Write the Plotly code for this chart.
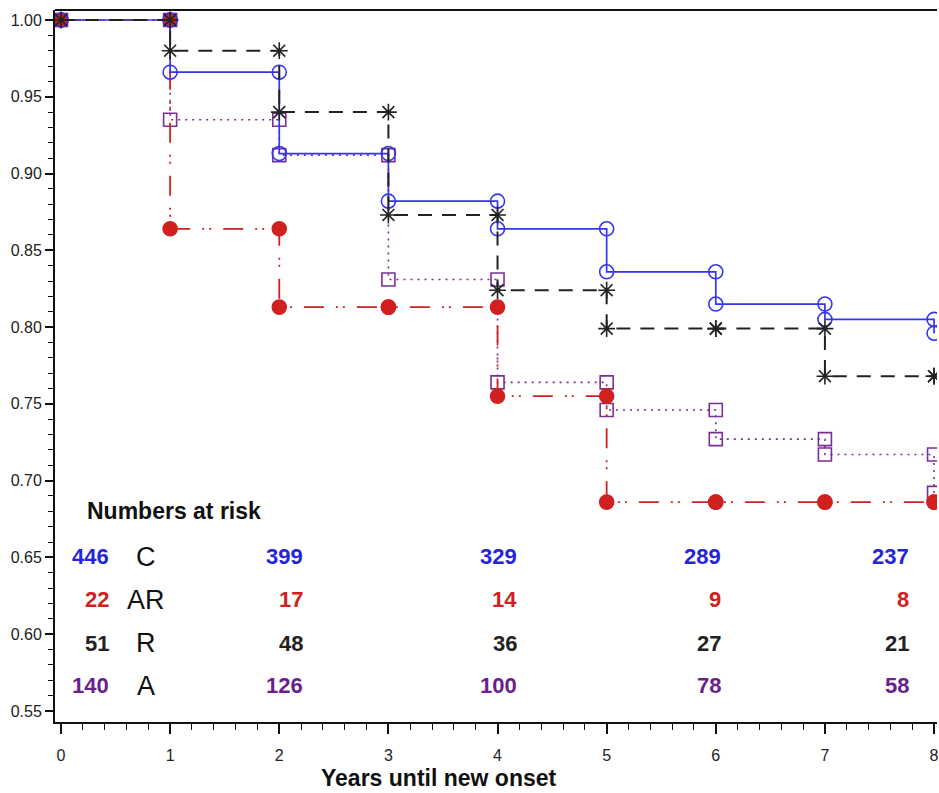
import plotly.graph_objects as go

# ---- data ----
years = [0, 1, 2, 3, 4, 5, 6, 7, 8]
# survival on interval [k, k+1), last value = after drop at year 8
surv_C = [1.000, 0.966, 0.913, 0.882, 0.864, 0.836, 0.815, 0.805, 0.796]
surv_AR = [1.000, 0.864, 0.813, 0.813, 0.755, 0.686, 0.686, 0.686, 0.686]
surv_R = [1.000, 0.980, 0.940, 0.873, 0.824, 0.799, 0.799, 0.768, 0.768]
surv_A = [1.000, 0.935, 0.912, 0.831, 0.764, 0.746, 0.727, 0.717, 0.692]

risk_years = [0, 2, 4, 6, 8]
risk_C = [446, 399, 329, 289, 237]
risk_AR = [22, 17, 14, 9, 8]
risk_R = [51, 48, 36, 27, 21]
risk_A = [140, 126, 100, 78, 58]

group_labels = ["C", "AR", "R", "A"]

y_ticks = [0.55, 0.60, 0.65, 0.70, 0.75, 0.80, 0.85, 0.90, 0.95, 1.00]
x_ticks = [0, 1, 2, 3, 4, 5, 6, 7, 8]

BLUE = "#3535ee"
RED = "#d02020"
BLACK = "#222222"
PURPLE = "#7a2f96"
BLUE_T = "#2424dd"
PURPLE_T = "#6a1f8a"

FONT = "Arial, Liberation Sans, sans-serif"


def step_xy(t, s):
    xs, ys = [t[0]], [s[0]]
    for k in range(1, len(t)):
        xs += [t[k], t[k]]
        ys += [s[k - 1], s[k]]
    return xs, ys


fig = go.Figure()

series = [
    (surv_A, PURPLE, "2px,5px", "square-open", 1.6, 13),
    (surv_AR, RED, "20px,12px,2px,5px,2px,12px", "circle", 1.8, 14),
    (surv_C, BLUE, "solid", "circle-open", 1.7, 14),
    (surv_R, BLACK, "14px,10px", "asterisk-open", 2.0, 14),
]
for s, col, dash, sym, lw, ms in series:
    xs, ys = step_xy(years, s)
    fig.add_trace(go.Scatter(
        x=xs, y=ys, mode="lines+markers",
        line=dict(color=col, width=lw, dash=dash),
        marker=dict(symbol=sym, size=ms, color=col, line=dict(color=col, width=1.6)),
        showlegend=False, hoverinfo="skip",
    ))

# numbers at risk table
annotations = [dict(x=0.22, y=0.680, xref="x", yref="y", text="<b>Numbers at risk</b>",
                    showarrow=False, xanchor="left", yanchor="middle",
                    font=dict(family=FONT, size=23, color="#111111"))]
risk_label_x = [0.457, 2.24, 4.196, 6.07, 7.79]
rows = [(risk_C, BLUE_T, 0.6504), (risk_AR, RED, 0.6224), (risk_R, BLACK, 0.594), (risk_A, PURPLE_T, 0.5665)]
for (vals, col, yy), lab in zip(rows, group_labels):
    for xv, v in zip(risk_label_x, vals):
        annotations.append(dict(x=xv, y=yy, xref="x", yref="y", text=f"<b>{v}</b>",
                                showarrow=False, xanchor="right", yanchor="middle",
                                font=dict(family=FONT, size=22, color=col)))
    annotations.append(dict(x=0.777, y=yy, xref="x", yref="y", text=lab,
                            showarrow=False, xanchor="center", yanchor="middle",
                            font=dict(family=FONT, size=27, color="#111111")))

# x-axis title (placed as annotation to match its off-centre position)
annotations.append(dict(x=0.4355, y=-0.079, xref="paper", yref="paper",
                        text="<b>Years until new onset</b>", showarrow=False,
                        xanchor="center", yanchor="middle",
                        font=dict(family=FONT, size=23, color="#111111")))

fig.update_layout(
    width=939, height=793, autosize=False,
    margin=dict(l=55, r=0, t=10, b=71),
    plot_bgcolor="white", paper_bgcolor="white",
    annotations=annotations,
    xaxis=dict(
        range=[-0.055, 8.027], tickvals=x_ticks, ticktext=[str(v) for v in x_ticks],
        showgrid=False, zeroline=False, showline=True, linecolor="#111111", linewidth=2,
        mirror=False, ticks="outside", ticklen=10, tickwidth=1.5, tickcolor="#111111",
        minor=dict(dtick=0.2, tick0=0, ticks="outside", ticklen=6, tickwidth=1.2, tickcolor="#111111"),
        tickfont=dict(family=FONT, size=16, color="#222222"),
        ticklabelstandoff=8, ticklabeloverflow="allow",
    ),
    yaxis=dict(
        range=[0.5428, 1.0065], tickvals=y_ticks, ticktext=[f"{v:.2f}" for v in y_ticks],
        showgrid=False, zeroline=False, showline=True, linecolor="#111111", linewidth=2,
        ticks="outside", ticklen=8, tickwidth=1.5, tickcolor="#111111",
        minor=dict(dtick=0.01, tick0=0.55, ticks="outside", ticklen=5, tickwidth=1.2, tickcolor="#111111"),
        tickfont=dict(family=FONT, size=16, color="#222222"),
    ),
    shapes=[dict(type="line", xref="paper", yref="paper", x0=0, x1=1, y0=1, y1=1,
                 line=dict(color="#111111", width=2))],
)

fig.write_html("out.html", config={"displayModeBar": False},
               post_script="document.body.style.margin='0px';")
